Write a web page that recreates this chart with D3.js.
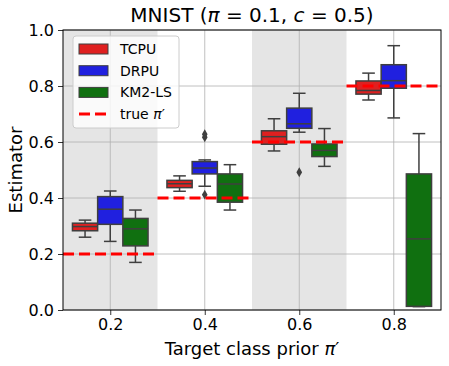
<!DOCTYPE html>
<meta charset="utf-8">
<head>
  <title>MNIST estimator boxplot</title>
</head>

<style>
body {
  margin: 0;
  font-family: "DejaVu Sans", sans-serif;
  background: #fff;
}
</style>

<body>
  <div id="content"></div>

  <script src="https://cdnjs.cloudflare.com/ajax/libs/d3/7.8.5/d3.min.js"></script>

  <script>
// categories (target class prior) and series
var priors = [0.2, 0.4, 0.6, 0.8];
var tickLabels = ['0.2', '0.4', '0.6', '0.8'];
var seriesNames = ['TCPU', 'DRPU', 'KM2-LS'];
var seriesColors = ['#df2020', '#2020df', '#107010'];

// box stats per prior: [whiskerLow, q1, median, q3, whiskerHigh]
var tcpu = [
  [0.260, 0.283, 0.298, 0.310, 0.321],
  [0.424, 0.437, 0.451, 0.463, 0.479],
  [0.568, 0.592, 0.619, 0.640, 0.683],
  [0.750, 0.771, 0.784, 0.818, 0.846]
];
var drpu = [
  [0.245, 0.306, 0.360, 0.405, 0.425],
  [0.442, 0.486, 0.507, 0.530, 0.536],
  [0.635, 0.649, 0.665, 0.721, 0.774],
  [0.686, 0.792, 0.819, 0.876, 0.944]
];
var km2ls = [
  [0.170, 0.229, 0.290, 0.327, 0.357],
  [0.357, 0.385, 0.450, 0.486, 0.519],
  [0.513, 0.548, 0.570, 0.593, 0.648],
  [0.012, 0.013, 0.254, 0.486, 0.630]
];
// outliers: [prior index, series index, value]
var outliers = [
  [1, 1, 0.617], [1, 1, 0.628], [1, 1, 0.412],
  [2, 1, 0.492]
];
var yTicks = [0.0, 0.2, 0.4, 0.6, 0.8, 1.0];

var W = 449, H = 366;
var margin = {left: 63, right: 8, top: 30, bottom: 56};

var svg = d3.select('#content').append('svg')
  .attr('width', W)
  .attr('height', H);

var x = d3.scaleLinear()
  .domain([-0.5, priors.length - 0.5])
  .range([margin.left, W - margin.right]);

var y = d3.scaleLinear()
  .domain([0, 1])
  .range([H - margin.bottom, margin.top]);

var step = x(1) - x(0);
var boxW = step * 0.8 / 3;

// shaded bands for alternate categories
svg.append('g').selectAll('rect')
  .data(priors.filter(function(d, i) { return i % 2 === 0; }))
  .enter().append('rect')
  .attr('x', function(d) { return x(priors.indexOf(d) - 0.5); })
  .attr('y', y(1))
  .attr('width', step)
  .attr('height', y(0) - y(1))
  .attr('fill', '#e5e5e5');

// grid
var grid = svg.append('g').attr('stroke', '#b0b0b0').attr('stroke-width', 0.8);
grid.selectAll('.gy').data(yTicks).enter().append('line')
  .attr('x1', x.range()[0]).attr('x2', x.range()[1])
  .attr('y1', function(d) { return y(d); }).attr('y2', function(d) { return y(d); });
grid.selectAll('.gx').data(priors).enter().append('line')
  .attr('x1', function(d, i) { return x(i); }).attr('x2', function(d, i) { return x(i); })
  .attr('y1', y(0)).attr('y2', y(1));

// axes
var yAxis = d3.axisLeft(y).tickValues(yTicks).tickFormat(d3.format('.1f')).tickSize(5).tickPadding(4);
var xAxis = d3.axisBottom(x).tickValues(d3.range(priors.length))
  .tickFormat(function(d) { return tickLabels[d]; }).tickSize(5).tickPadding(4);

svg.append('g')
  .attr('transform', 'translate(' + margin.left + ',0)')
  .call(yAxis)
  .call(function(g) { g.select('.domain').remove(); });
svg.append('g')
  .attr('transform', 'translate(0,' + y(0) + ')')
  .call(xAxis)
  .call(function(g) { g.select('.domain').remove(); });

svg.selectAll('.tick text')
  .attr('font-family', 'DejaVu Sans')
  .attr('font-size', 16)
  .attr('fill', '#000');
svg.selectAll('.tick line').attr('stroke', '#000').attr('stroke-width', 0.8);

// boxes
var allSeries = [tcpu, drpu, km2ls];
var edge = '#3f3f3f';
var boxes = svg.append('g');
allSeries.forEach(function(series, s) {
  series.forEach(function(st, i) {
    var cx = x(i) + (s - 1) * boxW;
    var g = boxes.append('g');
    var cap = boxW / 4;
    g.append('line').attr('x1', cx).attr('x2', cx).attr('y1', y(st[0])).attr('y2', y(st[1]));
    g.append('line').attr('x1', cx).attr('x2', cx).attr('y1', y(st[3])).attr('y2', y(st[4]));
    g.append('line').attr('x1', cx - cap).attr('x2', cx + cap).attr('y1', y(st[0])).attr('y2', y(st[0]));
    g.append('line').attr('x1', cx - cap).attr('x2', cx + cap).attr('y1', y(st[4])).attr('y2', y(st[4]));
    g.append('rect')
      .attr('x', cx - boxW / 2).attr('width', boxW)
      .attr('y', y(st[3])).attr('height', y(st[1]) - y(st[3]))
      .attr('fill', seriesColors[s]);
    g.append('line').attr('x1', cx - boxW / 2).attr('x2', cx + boxW / 2)
      .attr('y1', y(st[2])).attr('y2', y(st[2]));
    g.selectAll('line').attr('stroke', edge).attr('stroke-width', 1.5);
    g.select('rect').attr('stroke', edge).attr('stroke-width', 1.5);
  });
});

// outliers
var diamond = d3.symbol().type(d3.symbolDiamond).size(28);
svg.append('g').selectAll('path')
  .data(outliers)
  .enter().append('path')
  .attr('d', diamond)
  .attr('transform', function(d) {
    return 'translate(' + (x(d[0]) + (d[1] - 1) * boxW) + ',' + y(d[2]) + ')';
  })
  .attr('fill', edge);

// true prior lines
svg.append('g').selectAll('line')
  .data(priors)
  .enter().append('line')
  .attr('x1', function(d, i) { return x(i - 0.5); })
  .attr('x2', function(d, i) { return x(i + 0.5); })
  .attr('y1', function(d) { return y(d); })
  .attr('y2', function(d) { return y(d); })
  .attr('stroke', '#ff0000')
  .attr('stroke-width', 3)
  .attr('stroke-dasharray', '11,5');

// frame
svg.append('rect')
  .attr('x', x.range()[0]).attr('y', y(1))
  .attr('width', x.range()[1] - x.range()[0])
  .attr('height', y(0) - y(1))
  .attr('fill', 'none')
  .attr('stroke', '#000')
  .attr('stroke-width', 1);

// legend
var legend = svg.append('g').attr('transform', 'translate(73,36)');
legend.append('rect')
  .attr('width', 106).attr('height', 92).attr('rx', 3)
  .attr('fill', '#fff').attr('fill-opacity', 0.8)
  .attr('stroke', '#cccccc');
var legendItems = seriesNames.concat(['true']);
legendItems.forEach(function(name, i) {
  var ly = 13 + i * 21.7;
  if (i < 3) {
    legend.append('rect')
      .attr('x', 6).attr('y', ly - 5).attr('width', 29).attr('height', 10)
      .attr('fill', seriesColors[i]).attr('stroke', edge).attr('stroke-width', 1);
  } else {
    legend.append('line')
      .attr('x1', 6).attr('x2', 35).attr('y1', ly).attr('y2', ly)
      .attr('stroke', '#ff0000').attr('stroke-width', 3).attr('stroke-dasharray', '11,5');
  }
  var t = legend.append('text')
    .attr('x', 47).attr('y', ly + 5)
    .attr('font-size', 14);
  t.append('tspan').text(name);
  if (i === 3) {
    t.append('tspan').text(' ');
    t.append('tspan').attr('font-style', 'italic').text('π');
    t.append('tspan').text('′');
  }
});

// title
var title = svg.append('text')
  .attr('x', (x.range()[0] + x.range()[1]) / 2)
  .attr('y', 22)
  .attr('text-anchor', 'middle')
  .attr('font-size', 20);
title.append('tspan').text('MNIST (');
title.append('tspan').attr('font-style', 'italic').text('π');
title.append('tspan').text(' = 0.1, ');
title.append('tspan').attr('font-style', 'italic').text('c');
title.append('tspan').text(' = 0.5)');

// axis labels
var xl = svg.append('text')
  .attr('x', (x.range()[0] + x.range()[1]) / 2)
  .attr('y', 355)
  .attr('text-anchor', 'middle')
  .attr('font-size', 18);
xl.append('tspan').text('Target class prior ');
xl.append('tspan').attr('font-style', 'italic').text('π');
xl.append('tspan').text('′');

svg.append('text')
  .attr('transform', 'translate(22,' + (y(0.5)) + ') rotate(-90)')
  .attr('text-anchor', 'middle')
  .attr('font-size', 18)
  .text('Estimator');
  </script>
</body>
</html>
